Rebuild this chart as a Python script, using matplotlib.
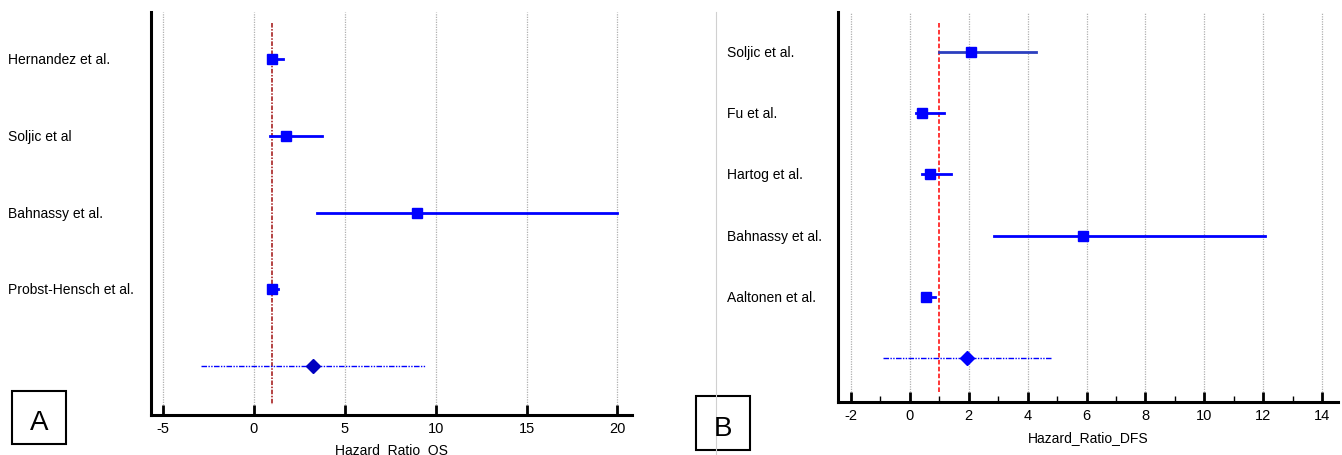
import matplotlib.pyplot as plt
import matplotlib.transforms as mtransforms
from matplotlib.patches import Rectangle
from matplotlib.lines import Line2D

plt.rcParams['font.family'] = ['Liberation Sans', 'DejaVu Sans']
plt.rcParams['axes.unicode_minus'] = False

# Painel A - sobrevida global (OS)
studies_os = ["Hernandez et al.", "Soljic et al", "Bahnassy et al.", "Probst-Hensch et al."]
hr_os = [1.0, 1.8, 8.95, 1.0]
lo_os = [0.85, 0.9, 3.5, 0.8]
hi_os = [1.6, 3.75, 20.0, 1.35]
pooled_os = 3.25
pooled_os_lo = -2.9
pooled_os_hi = 9.4
ticks_os = [-5, 0, 5, 10, 15, 20]

# Painel B - sobrevida livre de doenca (DFS)
studies_dfs = ["Soljic et al.", "Fu et al.", "Hartog et al.", "Bahnassy et al.", "Aaltonen et al."]
hr_dfs = [2.07, 0.4, 0.7, 5.87, 0.55]
lo_dfs = [1.0, 0.2, 0.4, 2.85, 0.45]
hi_dfs = [4.3, 1.15, 1.4, 12.07, 0.85]
pooled_dfs = 1.93
pooled_dfs_lo = -0.9
pooled_dfs_hi = 4.8
ticks_dfs = [-2, 0, 2, 4, 6, 8, 10, 12, 14]
minor_dfs = [-1, 1, 3, 5, 7, 9, 11, 13]

W, H = 1342, 456
fig = plt.figure(figsize=(W / 100, H / 100), dpi=100)

# posicoes dos eixos em pixels -> fracao da figura
axA = fig.add_axes([151 / W, 1 - 416 / H, (632 - 151) / W, (416 - 13) / H])
axB = fig.add_axes([838 / W, 1 - 403 / H, (1338 - 838) / W, (403 - 13) / H])

# --- painel A ---
for i in range(len(studies_os)):
    axA.plot([lo_os[i], hi_os[i]], [i, i], color='#0000ff', lw=2, zorder=3)
    axA.plot(hr_os[i], i, marker='s', ms=7, color='#0000ff', zorder=4)
nA = len(studies_os)
axA.plot([pooled_os_lo, pooled_os_hi], [nA, nA], color='#0000ff', lw=1,
         ls=(0, (4, 1, 1, 1, 1, 1)), zorder=3)
axA.plot(pooled_os, nA, marker='D', ms=7, color='#0000c0', zorder=4)
axA.plot([1, 1], [-0.47, 4.51], color='#a01010', lw=1.1, ls=(0, (3, 1, 1, 1)), zorder=2)
axA.set_xlim(-5.65, 20.8)
axA.set_ylim(4.645, -0.62)
axA.set_xticks(ticks_os)
axA.set_xlabel('Hazard  Ratio  OS', fontsize=10, labelpad=6)

# --- painel B ---
line_b = ['#2b3fbf', '#0000ff', '#0000ff', '#0000ff', '#0000ff']
for i in range(len(studies_dfs)):
    axB.plot([lo_dfs[i], hi_dfs[i]], [i, i], color=line_b[i], lw=2, zorder=3)
    axB.plot(hr_dfs[i], i, marker='s', ms=7, color='#0000ff', zorder=4)
nB = len(studies_dfs)
axB.plot([pooled_dfs_lo, pooled_dfs_hi], [nB, nB], color='#0000ff', lw=1,
         ls=(0, (4, 1, 1, 1, 1, 1)), zorder=3)
axB.plot(pooled_dfs, nB, marker='D', ms=7, color='#0000ff', zorder=4)
axB.plot([1, 1], [-0.475, 5.56], color='#ff0000', lw=1.1, ls=(0, (3, 1.5)), zorder=2)
axB.set_xlim(-2.44, 14.54)
axB.set_ylim(5.72, -0.656)
axB.set_xticks(ticks_dfs)
axB.set_xticks(minor_dfs, minor=True)
axB.set_xlabel('Hazard_Ratio_DFS', fontsize=10, labelpad=6)

for ax in (axA, axB):
    ax.set_yticks([])
    ax.xaxis.grid(True, which='major', color='#b0b0b0', ls=(0, (1, 1)), lw=0.9)
    ax.set_axisbelow(True)
    for s in ['top', 'right']:
        ax.spines[s].set_visible(False)
    for s in ['left', 'bottom']:
        ax.spines[s].set_linewidth(2.2)
    ax.tick_params(axis='x', which='major', direction='in', length=7, width=2, labelsize=10.5, pad=4)
    ax.tick_params(axis='x', which='minor', direction='in', length=4, width=1)


def put_names(ax, names, xpix):
    # nomes dos estudos a esquerda do eixo
    tr = mtransforms.blended_transform_factory(fig.transFigure, ax.transData)
    for i, nm in enumerate(names):
        ax.text(xpix / W, i, nm, fontsize=10, va='center', ha='left', transform=tr, clip_on=False)


put_names(axA, studies_os, 8)
put_names(axB, studies_dfs, 727)

# linha cinza clara no painel B
fig.add_artist(Line2D([716 / W, 716 / W], [0, 1 - 13 / H], transform=fig.transFigure,
                      color='#d0d0d0', lw=0.8))

# letras dos paineis
for (x0, y0, x1, y1, letter) in [(12, 392, 66, 445, 'A'), (696, 397, 750, 451, 'B')]:
    fig.add_artist(Rectangle((x0 / W, 1 - y1 / H), (x1 - x0) / W, (y1 - y0) / H,
                             transform=fig.transFigure, facecolor='white',
                             edgecolor='black', lw=1.5))
    fig.text((x0 + x1) / 2 / W, 1 - (y0 + y1) / 2 / H - 0.01, letter, fontsize=20,
             ha='center', va='center')

fig.savefig('out.png', dpi=100)
